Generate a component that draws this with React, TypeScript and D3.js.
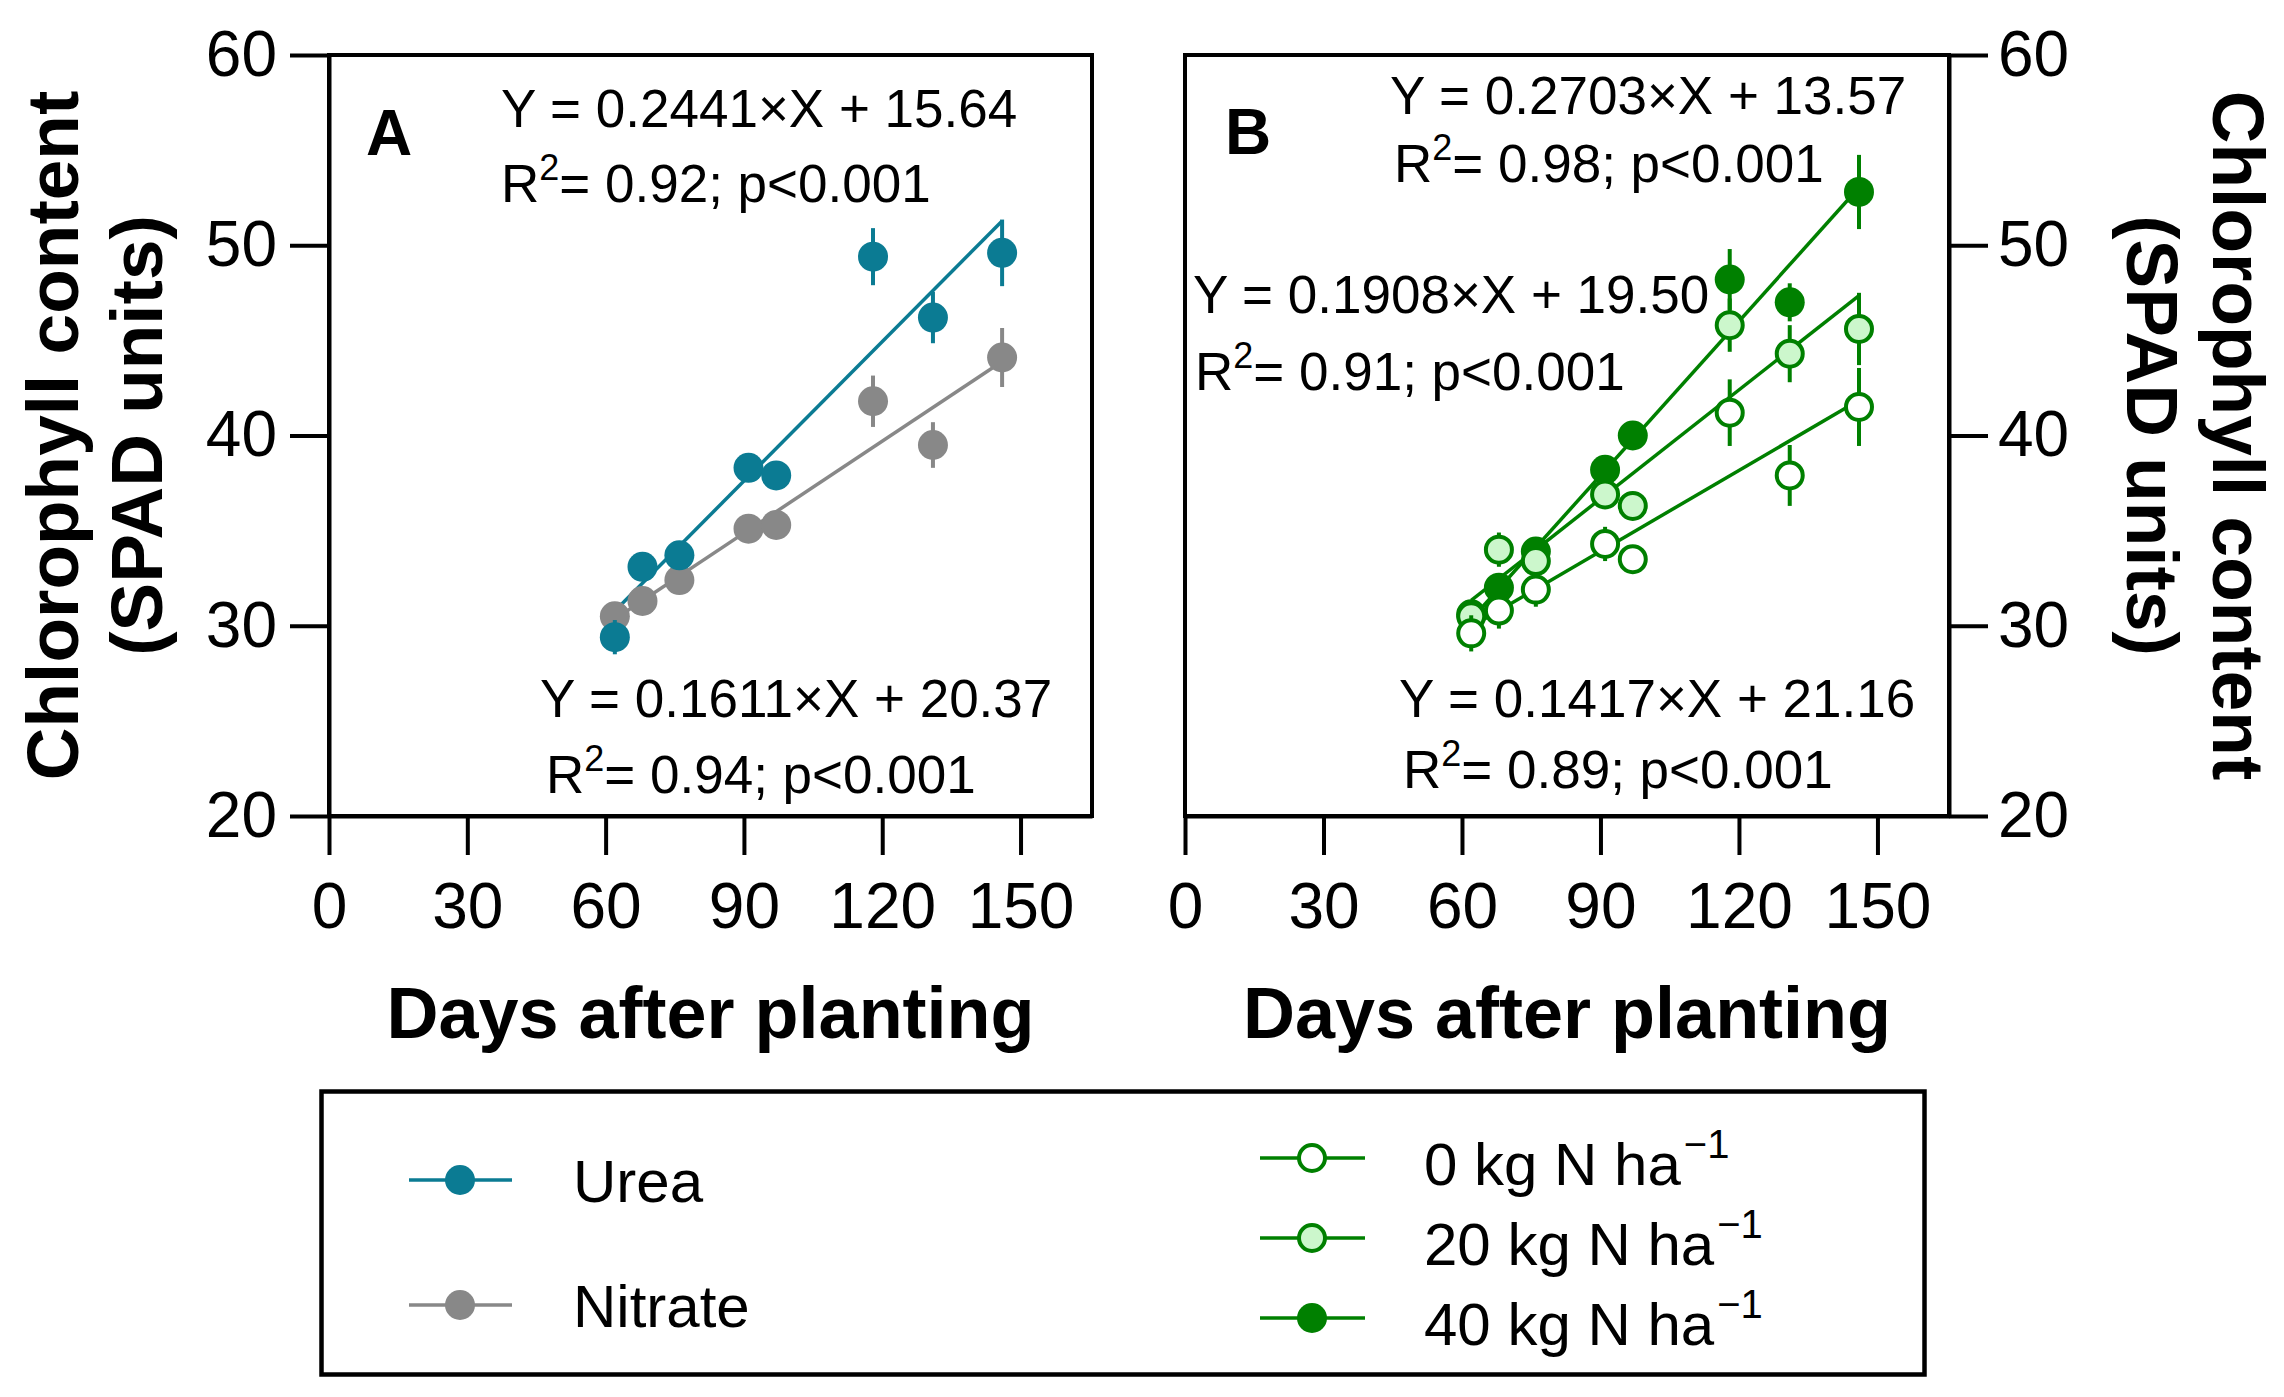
import { useEffect, useRef } from "react";
import * as d3 from "d3";

// Sampling days (days after planting)
const DAYS = [62, 68, 76, 91, 97, 118, 131, 146];

// Panel A: N source
const UREA = [29.4, 33.1, 33.7, 38.3, 37.9, 49.4, 46.2, 49.6];
const UREA_SE = [0.9, 0.4, 0.4, 0.3, 0.3, 1.5, 1.35, 1.75];
const NITRATE = [30.5, 31.3, 32.4, 35.1, 35.3, 41.8, 39.5, 44.1];
const NITRATE_SE = [0.5, 0.3, 0.4, 0.3, 0.3, 1.35, 1.2, 1.55];

// Panel B: N rate
const N0 = [29.6, 30.8, 31.9, 34.3, 33.5, 41.2, 37.9, 41.5];
const N0_SE = [0.95, 0.95, 0.9, 0.9, 0.5, 1.75, 1.6, 2.05];
const N20 = [30.5, 34.0, 33.4, 36.9, 36.3, 45.8, 44.3, 45.6];
const N20_SE = [0.5, 0.9, 0.5, 0.4, 0.4, 1.4, 1.5, 1.9];
const N40 = [30.6, 32.0, 33.9, 38.2, 40.0, 48.2, 47.0, 52.8];
const N40_SE = [0.4, 0.5, 0.5, 0.4, 0.4, 1.6, 1.0, 1.95];

// Linear fits
const FIT_A_SLOPE = [0.2441, 0.1611];
const FIT_A_INTERCEPT = [15.64, 20.37];
const FIT_A_R2 = [0.92, 0.94];
const FIT_B_SLOPE = [0.1417, 0.1908, 0.2703];
const FIT_B_INTERCEPT = [21.16, 19.5, 13.57];
const FIT_B_R2 = [0.89, 0.91, 0.98];

const X_TICKS = [0, 30, 60, 90, 120, 150];
const Y_TICKS = [20, 30, 40, 50, 60];
const LEGEND_A = ["Urea", "Nitrate"];
const LEGEND_B = ["0 kg N ha", "20 kg N ha", "40 kg N ha"];

const TEAL = "#0b7b93";
const GRAY = "#888888";
const GREEN = "#008000";
const LIGHT = "#ccf7cc";
const FONT = "'Liberation Sans', Arial, Helvetica, sans-serif";

interface Series {
  values: number[];
  se: number[];
  color: string;
  fill: string;
  slope: number;
  intercept: number;
  r2: number;
  eq: { x1: number; y1: number; x2: number; y2: number };
}

export default function App() {
  const svgRef = useRef<SVGSVGElement>(null);

  useEffect(() => {
    if (!svgRef.current) return;
    const svg = d3.select(svgRef.current);
    svg.selectAll("*").remove();

    const y = d3.scaleLinear().domain([20, 60]).range([816, 55]);
    const xA = d3.scaleLinear().domain([0, 165.5]).range([329, 1092]);
    const xB = d3.scaleLinear().domain([0, 165.5]).range([1185, 1949]);

    const styleAxis = (g: d3.Selection<SVGGElement, unknown, null, undefined>) => {
      g.attr("font-family", FONT).attr("font-size", 64);
      g.select(".domain").attr("stroke", "#000").attr("stroke-width", 4);
      g.selectAll(".tick line").attr("stroke", "#000").attr("stroke-width", 4);
      g.selectAll(".tick text").attr("fill", "#000");
    };

    const drawPanel = (
      x: d3.ScaleLinear<number, number>,
      side: "left" | "right",
      series: Series[],
      letter: string,
      letterPos: [number, number]
    ) => {
      const [x0, x1] = x.range();
      const g = svg.append("g");

      // frame
      g.append("rect")
        .attr("x", x0).attr("y", y(60))
        .attr("width", x1 - x0).attr("height", y(20) - y(60))
        .attr("fill", "none").attr("stroke", "#000").attr("stroke-width", 4);

      // axes
      g.append("g")
        .attr("transform", `translate(0,${y(20)})`)
        .call(d3.axisBottom(x).tickValues(X_TICKS).tickSize(39).tickSizeOuter(0).tickPadding(28))
        .call(styleAxis);

      if (side === "left") {
        g.append("g")
          .attr("transform", `translate(${x0},0)`)
          .call(d3.axisLeft(y).tickValues(Y_TICKS).tickSize(39).tickSizeOuter(0).tickPadding(13))
          .call(styleAxis);
      } else {
        g.append("g")
          .attr("transform", `translate(${x1},0)`)
          .call(d3.axisRight(y).tickValues(Y_TICKS).tickSize(39).tickSizeOuter(0).tickPadding(10))
          .call(styleAxis);
      }

      // regression lines over the sampled range
      const span = d3.extent(DAYS) as [number, number];
      series.forEach((s) => {
        const fit = d3.line<number>()
          .x((d) => x(d))
          .y((d) => y(s.slope * d + s.intercept));
        g.append("path").datum(span)
          .attr("fill", "none").attr("stroke", s.color)
          .attr("stroke-width", 3.5).attr("d", fit);
      });

      // points with error bars
      series.forEach((s) => {
        const pts = DAYS.map((d, j) => ({ d, v: s.values[j], e: s.se[j] }));
        g.append("g").selectAll("line").data(pts).enter().append("line")
          .attr("x1", (p) => x(p.d)).attr("x2", (p) => x(p.d))
          .attr("y1", (p) => y(p.v - p.e)).attr("y2", (p) => y(p.v + p.e))
          .attr("stroke", s.color).attr("stroke-width", 4);
        const open = s.fill !== s.color;
        g.append("g").selectAll("circle").data(pts).enter().append("circle")
          .attr("cx", (p) => x(p.d)).attr("cy", (p) => y(p.v))
          .attr("r", open ? 13 : 15)
          .attr("fill", s.fill)
          .attr("stroke", open ? s.color : "none")
          .attr("stroke-width", 4);
      });

      // equations
      series.forEach((s) => {
        g.append("text")
          .attr("x", s.eq.x1).attr("y", s.eq.y1)
          .attr("font-family", FONT).attr("font-size", 53)
          .text(`Y = ${s.slope.toFixed(4)}×X + ${s.intercept.toFixed(2)}`);
        const t = g.append("text")
          .attr("x", s.eq.x2).attr("y", s.eq.y2)
          .attr("font-family", FONT).attr("font-size", 53);
        t.append("tspan").text("R");
        t.append("tspan").attr("font-size", 36).attr("dy", -22).text("2");
        t.append("tspan").attr("dy", 22).text(`= ${s.r2.toFixed(2)}; p<0.001`);
      });

      // panel letter
      g.append("text")
        .attr("x", letterPos[0]).attr("y", letterPos[1])
        .attr("font-family", FONT).attr("font-size", 64).attr("font-weight", "bold")
        .text(letter);

      // x title
      g.append("text")
        .attr("x", (x0 + x1) / 2).attr("y", 1038)
        .attr("text-anchor", "middle")
        .attr("font-family", FONT).attr("font-size", 72).attr("font-weight", "bold")
        .text("Days after planting");
    };

    drawPanel(
      xA, "left",
      [
        {
          values: NITRATE, se: NITRATE_SE, color: GRAY, fill: GRAY,
          slope: FIT_A_SLOPE[1], intercept: FIT_A_INTERCEPT[1], r2: FIT_A_R2[1],
          eq: { x1: 540, y1: 717, x2: 546, y2: 793 },
        },
        {
          values: UREA, se: UREA_SE, color: TEAL, fill: TEAL,
          slope: FIT_A_SLOPE[0], intercept: FIT_A_INTERCEPT[0], r2: FIT_A_R2[0],
          eq: { x1: 501, y1: 127, x2: 501, y2: 202 },
        },
      ],
      "A", [366, 155]
    );

    drawPanel(
      xB, "right",
      [
        {
          values: N40, se: N40_SE, color: GREEN, fill: GREEN,
          slope: FIT_B_SLOPE[2], intercept: FIT_B_INTERCEPT[2], r2: FIT_B_R2[2],
          eq: { x1: 1390, y1: 114, x2: 1394, y2: 182 },
        },
        {
          values: N20, se: N20_SE, color: GREEN, fill: LIGHT,
          slope: FIT_B_SLOPE[1], intercept: FIT_B_INTERCEPT[1], r2: FIT_B_R2[1],
          eq: { x1: 1193, y1: 313, x2: 1195, y2: 390 },
        },
        {
          values: N0, se: N0_SE, color: GREEN, fill: "#ffffff",
          slope: FIT_B_SLOPE[0], intercept: FIT_B_INTERCEPT[0], r2: FIT_B_R2[0],
          eq: { x1: 1399, y1: 717, x2: 1403, y2: 788 },
        },
      ],
      "B", [1225, 154]
    );

    // y titles
    const yTitle = (tx: number, angle: number, text: string) => {
      svg.append("text")
        .attr("transform", `translate(${tx},${(y(20) + y(60)) / 2}) rotate(${angle})`)
        .attr("text-anchor", "middle")
        .attr("font-family", FONT).attr("font-size", 73).attr("font-weight", "bold")
        .text(text);
    };
    yTitle(78, -90, "Chlorophyll content");
    yTitle(162, -90, "(SPAD units)");
    yTitle(2213, 90, "Chlorophyll content");
    yTitle(2127, 90, "(SPAD units)");

    // legend
    const lg = svg.append("g");
    lg.append("rect")
      .attr("x", 321.5).attr("y", 1091.5).attr("width", 1603).attr("height", 283)
      .attr("fill", "none").attr("stroke", "#000").attr("stroke-width", 4.5);

    const legA = [
      { label: LEGEND_A[0], color: TEAL },
      { label: LEGEND_A[1], color: GRAY },
    ];
    legA.forEach((d, i) => {
      const cy = 1180 + i * 125;
      lg.append("line").attr("x1", 409).attr("x2", 512).attr("y1", cy).attr("y2", cy)
        .attr("stroke", d.color).attr("stroke-width", 3.5);
      lg.append("circle").attr("cx", 460).attr("cy", cy).attr("r", 15).attr("fill", d.color);
      lg.append("text").attr("x", 573).attr("y", cy + 22)
        .attr("font-family", FONT).attr("font-size", 60).text(d.label);
    });

    const legB = [
      { label: LEGEND_B[0], fill: "#ffffff" },
      { label: LEGEND_B[1], fill: LIGHT },
      { label: LEGEND_B[2], fill: GREEN },
    ];
    legB.forEach((d, i) => {
      const cy = 1158 + i * 80;
      lg.append("line").attr("x1", 1260).attr("x2", 1365).attr("y1", cy).attr("y2", cy)
        .attr("stroke", GREEN).attr("stroke-width", 3.5);
      const open = d.fill !== GREEN;
      lg.append("circle").attr("cx", 1312).attr("cy", cy).attr("r", open ? 13 : 15)
        .attr("fill", d.fill).attr("stroke", open ? GREEN : "none").attr("stroke-width", 4);
      const t = lg.append("text").attr("x", 1424).attr("y", cy + 27)
        .attr("font-family", FONT).attr("font-size", 60);
      t.append("tspan").text(d.label);
      t.append("tspan").attr("font-size", 40).attr("dy", -27).attr("dx", 3).text("−1");
    });
  }, []);

  return (
    <>
      <style>{`body{margin:0;background:#fff}`}</style>
      <svg ref={svgRef} width={2284} height={1397} style={{ display: "block", background: "#fff" }} />
    </>
  );
}
